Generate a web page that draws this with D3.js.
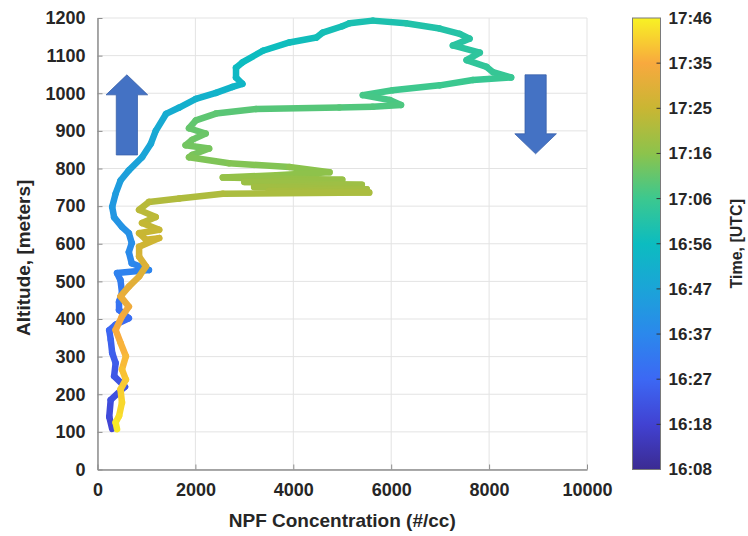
<!DOCTYPE html>
<html lang="en">
<head>
<meta charset="UTF-8">
<title>NPF vertical profile</title>
<script src="https://d3js.org/d3.v7.min.js"></script>
<style>
  body { margin: 0; background: #fff; }
  svg { display: block; font-family: "Liberation Sans", Arial, sans-serif; font-weight: bold; }
</style>
</head>
<body>
<script>
// flight track (ascent then descent)
const npf = [300, 240, 270, 560, 340, 370, 300, 270, 240, 370, 640, 440, 440, 500, 470, 400, 1050, 700, 640, 700,
  640, 500, 340, 300, 370, 470, 640, 910, 1090, 1190, 1400, 1670, 2010, 2420, 2760, 2960, 2830, 2830, 2960, 3380,
  3920, 4470, 4600, 5000, 5150, 5620, 6300, 6990, 7400, 7600, 7260, 7810, 7540, 7950, 8080, 8450, 7670, 6990, 6030, 5420,
  5970, 6200, 5620, 4940, 3240, 2420, 2010, 1870, 2210, 1930, 1800, 2280, 1930, 1870, 2690, 3920, 4740, 3650, 2560, 5000,
  3000, 5400, 3200, 5500, 3500, 5550, 2560, 1670, 1050, 850, 1190, 910, 1260, 850, 990, 1260, 850, 850, 990, 850,
  640, 470, 640, 500, 370, 470, 580, 500, 580, 470, 500, 440, 370, 400];
const altitude = [108, 140, 185, 220, 248, 283, 310, 345, 370, 385, 402, 424, 446, 470, 503, 522, 530, 548, 578, 602,
  628, 645, 670, 698, 733, 768, 795, 830, 866, 900, 945, 962, 985, 1001, 1017, 1025, 1042, 1068, 1082, 1113,
  1135, 1148, 1161, 1178, 1186, 1193, 1186, 1172, 1158, 1145, 1127, 1108, 1088, 1070, 1056, 1042, 1035, 1021, 1008, 995,
  982, 969, 964, 962, 958, 946, 928, 907, 893, 876, 862, 853, 836, 830, 814, 804, 790, 782, 776, 770,
  764, 757, 751, 745, 740, 736, 733, 720, 711, 690, 671, 655, 637, 628, 611, 615, 592, 566, 540, 513,
  486, 460, 433, 407, 371, 337, 301, 266, 239, 213, 178, 142, 125, 107];
const timeUTC = ["16:18", "16:19", "16:21", "16:22", "16:23", "16:24", "16:25", "16:26", "16:27", "16:28",
  "16:29", "16:30", "16:31", "16:32", "16:34", "16:35", "16:36", "16:37", "16:38", "16:39",
  "16:40", "16:41", "16:42", "16:43", "16:44", "16:45", "16:46", "16:47", "16:48", "16:49",
  "16:50", "16:51", "16:52", "16:53", "16:54", "16:54", "16:55", "16:56", "16:57", "16:57",
  "16:58", "16:58", "16:59", "16:59", "17:00", "17:00", "17:01", "17:02", "17:02", "17:03",
  "17:03", "17:04", "17:04", "17:05", "17:05", "17:06", "17:06", "17:07", "17:07", "17:08",
  "17:08", "17:09", "17:09", "17:10", "17:10", "17:11", "17:11", "17:12", "17:12", "17:13",
  "17:13", "17:14", "17:14", "17:15", "17:15", "17:16", "17:17", "17:17", "17:18", "17:18",
  "17:19", "17:19", "17:20", "17:20", "17:21", "17:21", "17:22", "17:22", "17:23", "17:24",
  "17:24", "17:25", "17:26", "17:26", "17:27", "17:27", "17:28", "17:29", "17:30", "17:31",
  "17:32", "17:33", "17:34", "17:35", "17:36", "17:37", "17:38", "17:39", "17:40", "17:41",
  "17:42", "17:43", "17:44", "17:46"];

const xTicks = [0, 2000, 4000, 6000, 8000, 10000];
const yTicks = [0, 100, 200, 300, 400, 500, 600, 700, 800, 900, 1000, 1100, 1200];
const cbLabels = ["16:08", "16:18", "16:27", "16:37", "16:47", "16:56", "17:06", "17:16", "17:25", "17:35", "17:46"];
// block arrows: x position (#/cc), from / to altitude (m)
const arrowX = [600, 8950];
const arrowFrom = [836, 1049];
const arrowTo = [1049, 839];

const w = 748, h = 536;
const pLeft = 97.5, pRight = 587, pTop = 18, pBottom = 469.5;
const textCol = "#262626";

const toMin = s => { const p = s.split(":"); return +p[0] * 60 + +p[1]; };
const tMin = toMin("16:08"), tMax = toMin("17:46");

// parula-like colour map as it appears in the figure
const cmap = ["#3b2b92", "#4142d2", "#3c68f4", "#2b88ec", "#1ba4d8", "#0cbcc0", "#3cc88f", "#8cc34c", "#c9b633", "#f8a93e", "#f8f224"];
const color = d3.scaleLinear()
  .domain(d3.range(cmap.length).map(i => tMin + (tMax - tMin) * i / (cmap.length - 1)))
  .range(cmap)
  .interpolate(d3.interpolateRgb);

const svg = d3.select("body").append("svg").attr("width", w).attr("height", h);

const x = d3.scaleLinear().domain([0, 10000]).range([pLeft, pRight]);
const y = d3.scaleLinear().domain([0, 1200]).range([pBottom, pTop]);

// grid
svg.append("g").selectAll("line").data(xTicks).join("line")
  .attr("x1", d => x(d)).attr("x2", d => x(d)).attr("y1", pTop).attr("y2", pBottom)
  .attr("stroke", "#e3e3e3").attr("stroke-width", 1);
svg.append("g").selectAll("line").data(yTicks).join("line")
  .attr("x1", pLeft).attr("x2", pRight).attr("y1", d => y(d)).attr("y2", d => y(d))
  .attr("stroke", "#e3e3e3").attr("stroke-width", 1);

// axes
const xAxis = d3.axisBottom(x).tickValues(xTicks).tickFormat(d3.format("d"))
  .tickSizeInner(-5).tickSizeOuter(0).tickPadding(14);
const yAxis = d3.axisLeft(y).tickValues(yTicks).tickFormat(d3.format("d"))
  .tickSizeInner(-5).tickSizeOuter(0).tickPadding(12);
const gx = svg.append("g").attr("transform", `translate(0,${pBottom})`).call(xAxis);
const gy = svg.append("g").attr("transform", `translate(${pLeft},0)`).call(yAxis);
[gx, gy].forEach(g => {
  g.select(".domain").attr("stroke", "#8e8e8e").attr("stroke-width", 1.5);
  g.selectAll(".tick line").attr("stroke", "#8e8e8e");
  g.selectAll(".tick text").attr("fill", textCol).style("font-size", "18px").style("font-weight", "bold")
    .style("font-family", '"Liberation Sans", Arial, sans-serif');
});

// flight track, coloured by time
const pts = npf.map((v, i) => ({ x: x(v), y: y(altitude[i]), t: toMin(timeUTC[i]) }));
svg.append("g").selectAll("line").data(pts.slice(1)).join("line")
  .attr("x1", (d, i) => pts[i].x).attr("y1", (d, i) => pts[i].y)
  .attr("x2", d => d.x).attr("y2", d => d.y)
  .attr("stroke", (d, i) => color((pts[i].t + d.t) / 2))
  .attr("stroke-width", 6.5).attr("stroke-linecap", "round");

// block arrows
const headHalf = 20.8, shaftHalf = 10.6, headLen = 20;
arrowX.forEach((v, i) => {
  const cx = x(v), y0 = y(arrowFrom[i]), y1 = y(arrowTo[i]);
  const dir = y1 < y0 ? -1 : 1;
  const yb = y1 - dir * headLen;
  const path = [[cx - shaftHalf, y0], [cx - shaftHalf, yb], [cx - headHalf, yb], [cx, y1],
    [cx + headHalf, yb], [cx + shaftHalf, yb], [cx + shaftHalf, y0]];
  svg.append("path").attr("d", d3.line()(path) + "Z")
    .attr("fill", "#4472c4").attr("stroke", "#3a62ab").attr("stroke-width", 0.8);
});

// axis labels
svg.append("text").attr("x", (pLeft + pRight) / 2).attr("y", 527).attr("text-anchor", "middle")
  .attr("fill", textCol).style("font-size", "19px").text("NPF Concentration (#/cc)");
svg.append("text").attr("transform", `translate(30,${(pTop + pBottom) / 2 + 14}) rotate(-90)`).attr("text-anchor", "middle")
  .attr("fill", textCol).style("font-size", "19px").text("Altitude, [meters]");

// colour bar
const cbLeft = 632.5, cbW = 28;
const cb = d3.scaleLinear().domain([tMin, tMax]).range([pBottom, pTop]);
const grad = svg.append("defs").append("linearGradient").attr("id", "cbgrad")
  .attr("x1", 0).attr("y1", 1).attr("x2", 0).attr("y2", 0);
cmap.forEach((c, i) => grad.append("stop").attr("offset", i / (cmap.length - 1)).attr("stop-color", c));
svg.append("rect").attr("x", cbLeft).attr("y", pTop).attr("width", cbW).attr("height", pBottom - pTop)
  .attr("fill", "url(#cbgrad)").attr("stroke", "#7a7a7a").attr("stroke-width", 1);
const cbTickVals = cbLabels.map((d, i) => tMin + (tMax - tMin) * i / (cbLabels.length - 1));
svg.append("g").selectAll("line").data(cbTickVals.slice(1, -1)).join("line")
  .attr("x1", cbLeft + cbW - 4).attr("x2", cbLeft + cbW).attr("y1", d => cb(d)).attr("y2", d => cb(d))
  .attr("stroke", "#333").attr("stroke-width", 1);
svg.append("g").selectAll("text").data(cbLabels).join("text")
  .attr("x", cbLeft + cbW + 8).attr("y", (d, i) => cb(cbTickVals[i])).attr("dy", "0.35em")
  .attr("fill", textCol).style("font-size", "17px").text(d => d);
svg.append("text").attr("transform", `translate(742,${(pTop + pBottom) / 2}) rotate(-90)`).attr("text-anchor", "middle")
  .attr("fill", textCol).style("font-size", "16px").text("Time, [UTC]");
</script>
</body>
</html>
